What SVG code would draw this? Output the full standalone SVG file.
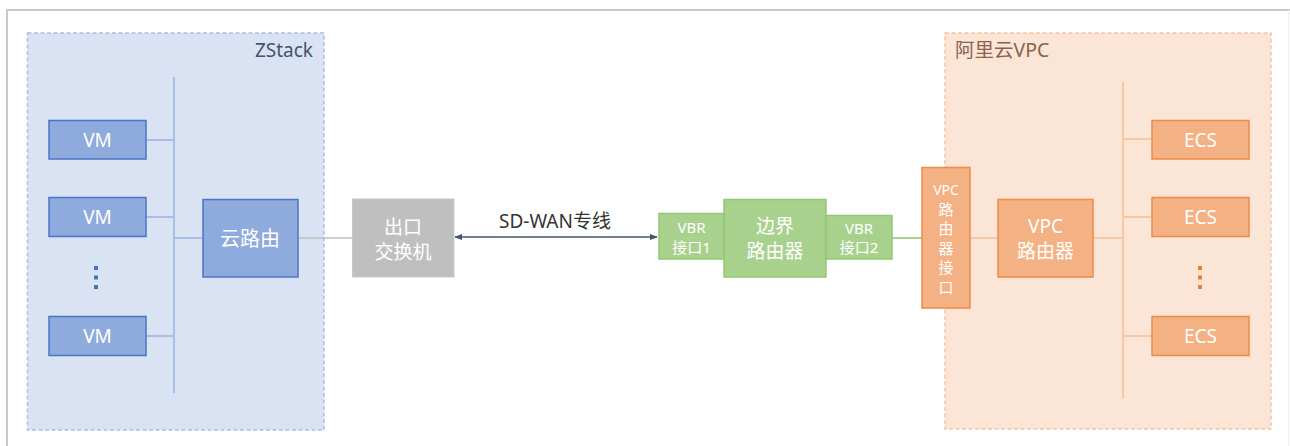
<svg xmlns="http://www.w3.org/2000/svg" width="1290" height="446" viewBox="0 0 1290 446">
<style>
text{font-family:"Noto Sans","Noto Sans CJK SC",sans-serif;text-anchor:middle}
.w{fill:#ffffff}
.vm{fill:#8faadc;stroke:#4a76c6;stroke-width:1.5}
.gr{fill:#a9d18e;stroke:#92c86f;stroke-width:1.5}
.or{fill:#f4b183;stroke:#ef8a48;stroke-width:1.5}
.bl{stroke:#a8bee6;stroke-width:2;fill:none}
.ol{stroke:#f8c8a6;stroke-width:2;fill:none}
</style>
<defs>
<marker id="ah" viewBox="0 0 10 10" refX="9" refY="5" markerWidth="8" markerHeight="8" markerUnits="userSpaceOnUse" orient="auto-start-reverse">
<path d="M0,1 L10,5 L0,9 Z" fill="#44546a"/>
</marker>
</defs>
<rect width="1290" height="446" fill="#ffffff"/>
<g id="frame">
<line x1="6" y1="10" x2="1290" y2="10" stroke="#c8c8c8" stroke-width="2"/>
<line x1="7" y1="10" x2="7" y2="446" stroke="#c8c8c8" stroke-width="2"/>
<line x1="1288.5" y1="10" x2="1288.5" y2="446" stroke="#eeeeee" stroke-width="1"/>
</g>
<g id="zstack">
<rect x="27.5" y="33" width="296.5" height="397" fill="#dae3f3" stroke="#a9c0e8" stroke-width="1.5" stroke-dasharray="4,2.5"/>
<text x="313" y="57" style="text-anchor:end;font-size:19px;fill:#44546a">ZStack</text>
</g>
<g id="aliyun">
<rect x="945" y="33" width="326" height="396" fill="#fbe5d6" stroke="#f8c3a0" stroke-width="1.5" stroke-dasharray="4,2.5"/>
<text x="955" y="57" style="text-anchor:start;font-size:19.5px;fill:#8a6250">阿里云VPC</text>
</g>
<g id="connectors">
<line class="bl" x1="174" y1="77" x2="174" y2="393"/>
<line class="bl" x1="146" y1="140" x2="174" y2="140"/>
<line class="bl" x1="146" y1="217" x2="174" y2="217"/>
<line class="bl" x1="146" y1="336" x2="174" y2="336"/>
<line class="bl" x1="174" y1="238" x2="203" y2="238"/>
<line x1="298" y1="238" x2="352" y2="238" stroke="#bfbfbf" stroke-width="1.5"/>
<line x1="455" y1="237" x2="657" y2="237" stroke="#44546a" stroke-width="1.5" marker-start="url(#ah)" marker-end="url(#ah)"/>
<line x1="892" y1="238" x2="922" y2="238" stroke="#a9d18e" stroke-width="2"/>
<line class="ol" x1="970" y1="238" x2="998" y2="238"/>
<line class="ol" x1="1093" y1="238" x2="1123" y2="238"/>
<line class="ol" x1="1123" y1="82" x2="1123" y2="399"/>
<line class="ol" x1="1123" y1="139" x2="1152" y2="139"/>
<line class="ol" x1="1123" y1="217" x2="1152" y2="217"/>
<line class="ol" x1="1123" y1="336" x2="1152" y2="336"/>
</g>
<g id="vm1"><rect class="vm" x="49" y="120.5" width="97" height="38.5"/><text class="w" x="97.5" y="147" font-size="19">VM</text></g>
<g id="vm2"><rect class="vm" x="49" y="197.5" width="97" height="39"/><text class="w" x="97.5" y="224" font-size="19">VM</text></g>
<g id="vm-dots" fill="#4472c4"><rect x="94" y="266" width="4" height="4"/><rect x="94" y="275.5" width="4" height="4"/><rect x="94" y="285" width="4" height="4"/></g>
<g id="vm3"><rect class="vm" x="49" y="316.5" width="97" height="39"/><text class="w" x="97.5" y="343" font-size="19">VM</text></g>
<g id="cloud-router"><rect class="vm" x="203" y="199.5" width="95" height="77.5"/><text class="w" x="250" y="246" font-size="20">云路由</text></g>
<g id="exit-switch"><rect x="352.5" y="199" width="101.5" height="78" fill="#bfbfbf" stroke="#c8c8c8" stroke-width="1"/><text class="w" x="403" y="234" font-size="19">出口</text><text class="w" x="403" y="259" font-size="19">交换机</text></g>
<g id="sdwan-label"><text x="555" y="228" font-size="19" fill="#333333">SD-WAN专线</text></g>
<g id="vbr1"><rect class="gr" x="659" y="213.5" width="65" height="45.5"/><text class="w" x="691.5" y="233" font-size="15">VBR</text><text class="w" x="691.5" y="252.5" font-size="15">接口1</text></g>
<g id="border-router"><rect class="gr" x="724" y="199.5" width="102" height="77.5"/><text class="w" x="775" y="233" font-size="19">边界</text><text class="w" x="775" y="258" font-size="19">路由器</text></g>
<g id="vbr2"><rect class="gr" x="826" y="215.5" width="66" height="43.5"/><text class="w" x="859" y="234" font-size="15">VBR</text><text class="w" x="859" y="253" font-size="15">接口2</text></g>
<g id="vpc-if"><rect class="or" x="922" y="167.5" width="48" height="140.5"/>
<text class="w" x="946" y="194.5" font-size="14">VPC</text>
<text class="w" x="946" y="214.5" font-size="15">路</text>
<text class="w" x="946" y="234" font-size="15">由</text>
<text class="w" x="946" y="253.5" font-size="15">器</text>
<text class="w" x="946" y="273" font-size="15">接</text>
<text class="w" x="946" y="292.5" font-size="15">口</text>
</g>
<g id="vpc-router"><rect class="or" x="998" y="199.5" width="95" height="77.5"/><text class="w" x="1045.5" y="232.5" font-size="19">VPC</text><text class="w" x="1045.5" y="258" font-size="19">路由器</text></g>
<g id="ecs1"><rect class="or" x="1152" y="120.5" width="97" height="38.5"/><text class="w" x="1200.5" y="147" font-size="19">ECS</text></g>
<g id="ecs2"><rect class="or" x="1152" y="197.5" width="97" height="39"/><text class="w" x="1200.5" y="224" font-size="19">ECS</text></g>
<g id="ecs-dots" fill="#ed7d31"><rect x="1198" y="266" width="4" height="4"/><rect x="1198" y="275.5" width="4" height="4"/><rect x="1198" y="285" width="4" height="4"/></g>
<g id="ecs3"><rect class="or" x="1152" y="316.5" width="97" height="39"/><text class="w" x="1200.5" y="343" font-size="19">ECS</text></g>
</svg>
